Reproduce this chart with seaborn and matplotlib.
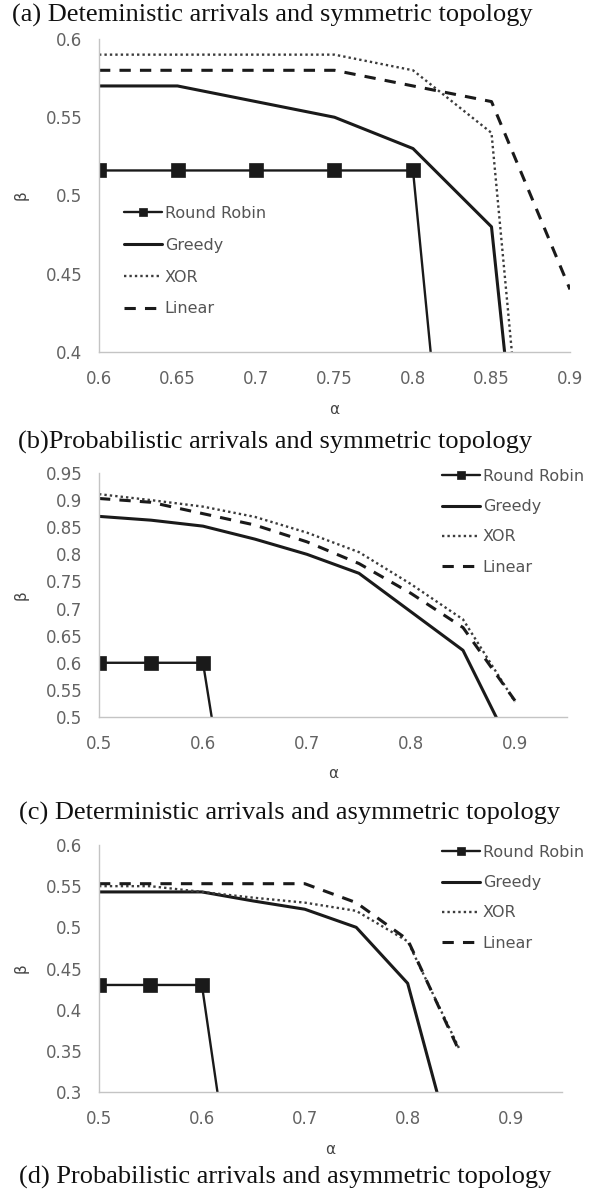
"""Capacity regions for four scheduling schemes (three panels)"""

import numpy as np
import pandas as pd
import seaborn as sns
import matplotlib.pyplot as plt

nan = np.nan

SCHEMES = ["Round Robin", "Greedy", "XOR", "Linear"]

# (a) deterministic arrivals, symmetric topology
ALPHA_A = [0.6, 0.65, 0.7, 0.75, 0.8, 0.85, 0.9]
RR_A = [0.516, 0.516, 0.516, 0.516, 0.516, 0.0, nan]
GREEDY_A = [0.57, 0.57, 0.56, 0.55, 0.53, 0.48, 0.0]
XOR_A = [0.59, 0.59, 0.59, 0.59, 0.58, 0.54, 0.0]
LINEAR_A = [0.58, 0.58, 0.58, 0.58, 0.57, 0.56, 0.44]

# (b) probabilistic arrivals, symmetric topology
ALPHA_B = [0.5, 0.55, 0.6, 0.65, 0.7, 0.75, 0.8, 0.85, 0.9]
RR_B = [0.6, 0.6, 0.6, 0.0, nan, nan, nan, nan, nan]
GREEDY_B = [0.87, 0.863, 0.852, 0.828, 0.80, 0.765, 0.694, 0.623, 0.43]
XOR_B = [0.911, 0.9, 0.888, 0.869, 0.84, 0.804, 0.745, 0.68, 0.528]
LINEAR_B = [0.903, 0.896, 0.875, 0.854, 0.823, 0.783, 0.728, 0.665, 0.53]

# (c) deterministic arrivals, asymmetric topology
ALPHA_C = [0.5, 0.55, 0.6, 0.65, 0.7, 0.75, 0.8, 0.85]
RR_C = [0.43, 0.43, 0.43, 0.0, nan, nan, nan, nan]
GREEDY_C = [0.543, 0.543, 0.543, 0.532, 0.522, 0.50, 0.432, 0.20]
XOR_C = [0.55, 0.55, 0.543, 0.536, 0.53, 0.52, 0.483, 0.353]
LINEAR_C = [0.553, 0.553, 0.553, 0.553, 0.553, 0.53, 0.485, 0.35]

TITLES = [
    "(a) Deteministic arrivals and symmetric topology",
    "(b)Probabilistic arrivals and symmetric topology",
    "(c) Deterministic arrivals and asymmetric topology",
    "(d) Probabilistic arrivals and asymmetric topology",
]

sns.set_style("white")
plt.rcParams["font.family"] = ["DejaVu Sans"]

W, H = 594, 1189
fig = plt.figure(figsize=(W / 100, H / 100), dpi=100)

DARK = "#1a1a1a"
STYLES = {
    "Round Robin": dict(color=DARK, linewidth=1.7, linestyle="-", marker="s",
                        markersize=10.5, markeredgecolor=DARK, markeredgewidth=0.5),
    "Greedy": dict(color=DARK, linewidth=2.2, linestyle="-"),
    "XOR": dict(color="#3c3c3c", linewidth=1.7, linestyle=(0, (1, 1.3))),
    "Linear": dict(color=DARK, linewidth=2.2, linestyle=(0, (3.7, 3))),
}


def px_axes(left, top, right, bottom):
    return fig.add_axes([left / W, 1 - bottom / H, (right - left) / W, (bottom - top) / H])


def draw_panel(ax, alpha, values, xlim, ylim, xticks, yticks, legend_xy, spacing):
    df = pd.DataFrame({"alpha": alpha, **dict(zip(SCHEMES, values))})
    df = df.melt(id_vars="alpha", var_name="scheme", value_name="beta").dropna()
    for name in SCHEMES:
        sns.lineplot(data=df[df["scheme"] == name], x="alpha", y="beta", ax=ax,
                     label=name, estimator=None, sort=False, **STYLES[name])
    ax.set_xlim(*xlim)
    ax.set_ylim(*ylim)
    ax.set_xticks(xticks)
    ax.set_xticklabels([f"{t:g}" for t in xticks])
    ax.set_yticks(yticks)
    ax.set_yticklabels([f"{t:g}" for t in yticks])
    sns.despine(ax=ax)
    for side in ["left", "bottom"]:
        ax.spines[side].set_color("#c4c4c4")
        ax.spines[side].set_linewidth(1.0)
    ax.tick_params(length=0, labelsize=12, labelcolor="#636363")
    ax.tick_params(axis="y", pad=12)
    ax.tick_params(axis="x", pad=13)
    ax.grid(False)

    bbox = ax.get_position()
    ax_w, ax_h = bbox.width * W, bbox.height * H
    ax.set_xlabel("α", fontsize=11, color="#444444", va="center")
    ax.xaxis.set_label_coords(0.5, -57 / ax_h)
    ax.set_ylabel("β", fontsize=11, color="#444444", va="center", rotation=90)
    ax.yaxis.set_label_coords(-(bbox.x0 * W - 21) / ax_w, 0.5)

    ax.legend(loc="upper left", bbox_to_anchor=(legend_xy[0] / W, 1 - legend_xy[1] / H),
              bbox_transform=fig.transFigure, frameon=False, fontsize=11.5,
              handlelength=2.35, handletextpad=0.2, labelspacing=spacing,
              borderpad=0, borderaxespad=0, markerscale=0.6, labelcolor="#545454")


ax_a = px_axes(99, 39, 570, 352)
draw_panel(ax_a, ALPHA_A, [RR_A, GREEDY_A, XOR_A, LINEAR_A], (0.6, 0.9), (0.4, 0.6),
           [0.6, 0.65, 0.7, 0.75, 0.8, 0.85, 0.9], [0.4, 0.45, 0.5, 0.55, 0.6],
           (124, 206), 1.05)

ax_b = px_axes(99, 473, 567, 717)
draw_panel(ax_b, ALPHA_B, [RR_B, GREEDY_B, XOR_B, LINEAR_B], (0.5, 0.95), (0.5, 0.95),
           [0.5, 0.6, 0.7, 0.8, 0.9],
           [0.5, 0.55, 0.6, 0.65, 0.7, 0.75, 0.8, 0.85, 0.9, 0.95], (442, 469), 0.95)

ax_c = px_axes(99, 845, 562, 1092)
draw_panel(ax_c, ALPHA_C, [RR_C, GREEDY_C, XOR_C, LINEAR_C], (0.5, 0.95), (0.3, 0.6),
           [0.5, 0.6, 0.7, 0.8, 0.9], [0.3, 0.35, 0.4, 0.45, 0.5, 0.55, 0.6],
           (442, 845), 0.95)

for (x, y), title in zip([(12, 15), (18, 442), (19, 813), (19, 1177)], TITLES):
    fig.text(x / W, 1 - y / H, title, fontsize=19, family="Liberation Serif",
             ha="left", va="center", color="#111111")

fig.savefig("out.png", dpi=100)
